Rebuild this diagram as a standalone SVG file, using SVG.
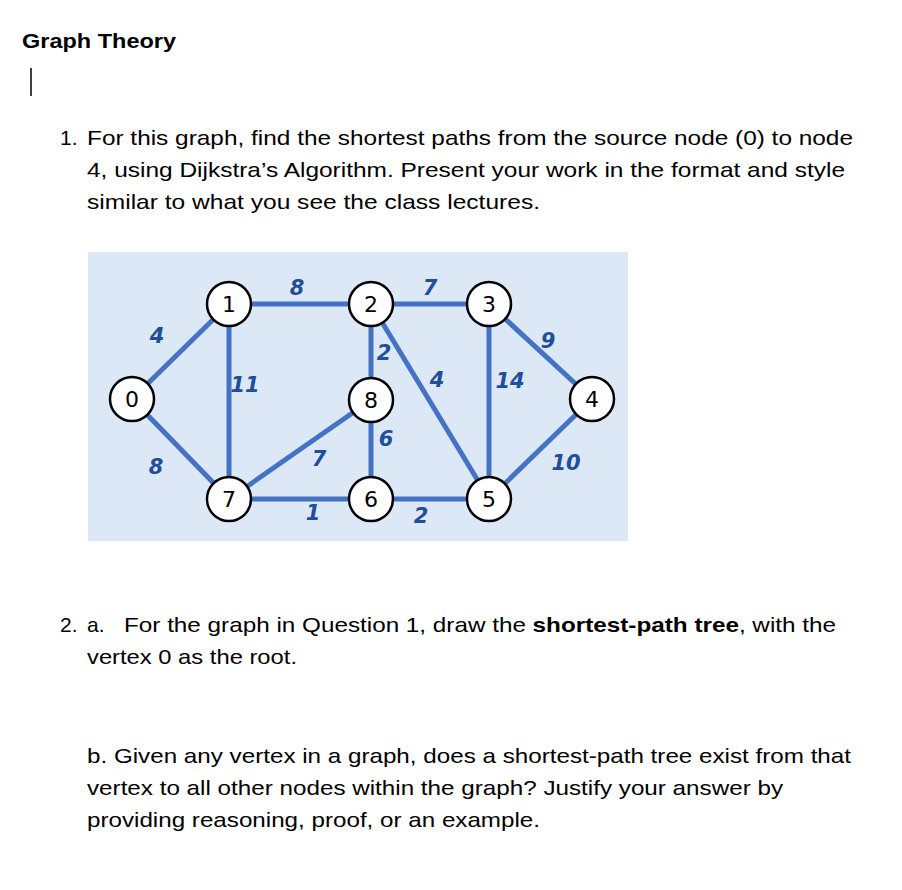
<svg xmlns="http://www.w3.org/2000/svg" width="902" height="890" viewBox="0 0 902 890">
<style>
.t{font-family:"Liberation Sans",Arial,sans-serif;font-size:21px;fill:#000}
.b{font-weight:bold}
.e{stroke:#4472c4;stroke-width:5;fill:none}
.n circle{fill:#fff;stroke:#000;stroke-width:2.5}
.n text{font-family:"DejaVu Sans",sans-serif;font-size:22px;text-anchor:middle;fill:#000}
.w{font-family:"DejaVu Sans",sans-serif;font-size:21px;font-weight:bold;font-style:italic;fill:#1f4e9a;text-anchor:middle}
</style>
<rect width="902" height="890" fill="#fff"/>
<text class="t b" x="22" y="48" textLength="154" lengthAdjust="spacingAndGlyphs">Graph Theory</text>
<line x1="31" y1="68" x2="31" y2="96" stroke="#000" stroke-width="1.5"/>
<text class="t" x="60" y="145">1.</text>
<text class="t" x="87" y="145" textLength="766" lengthAdjust="spacingAndGlyphs">For this graph, find the shortest paths from the source node (0) to node</text>
<text class="t" x="87" y="177" textLength="758" lengthAdjust="spacingAndGlyphs">4, using Dijkstra’s Algorithm. Present your work in the format and style</text>
<text class="t" x="87" y="209" textLength="453" lengthAdjust="spacingAndGlyphs">similar to what you see the class lectures.</text>
<rect x="88" y="252" width="540" height="289" fill="#dce8f5"/>
<g id="connectors">
<line class="e" x1="132" y1="399" x2="229" y2="304"/>
<line class="e" x1="132" y1="399" x2="229" y2="499"/>
<line class="e" x1="229" y1="304" x2="371" y2="304"/>
<line class="e" x1="229" y1="304" x2="229" y2="499"/>
<line class="e" x1="371" y1="304" x2="489" y2="304"/>
<line class="e" x1="371" y1="304" x2="371" y2="400"/>
<line class="e" x1="371" y1="304" x2="489" y2="499"/>
<line class="e" x1="489" y1="304" x2="489" y2="499"/>
<line class="e" x1="489" y1="304" x2="592" y2="399"/>
<line class="e" x1="371" y1="400" x2="229" y2="499"/>
<line class="e" x1="371" y1="400" x2="371" y2="499"/>
<line class="e" x1="229" y1="499" x2="371" y2="499"/>
<line class="e" x1="371" y1="499" x2="489" y2="499"/>
<line class="e" x1="489" y1="499" x2="592" y2="399"/>
</g>
<g id="weights">
<text class="w" x="157" y="343">4</text>
<text class="w" x="156" y="474">8</text>
<text class="w" x="297" y="295">8</text>
<text class="w" x="245" y="392">11</text>
<text class="w" x="430" y="295">7</text>
<text class="w" x="384" y="360">2</text>
<text class="w" x="437" y="387">4</text>
<text class="w" x="510" y="388">14</text>
<text class="w" x="548" y="348">9</text>
<text class="w" x="386" y="446">6</text>
<text class="w" x="319" y="466">7</text>
<text class="w" x="566" y="470">10</text>
<text class="w" x="313" y="520">1</text>
<text class="w" x="421" y="523">2</text>
</g>
<g id="n0" class="n"><circle cx="132" cy="399" r="22"/><text x="132" y="407">0</text></g>
<g id="n1" class="n"><circle cx="229" cy="304" r="22"/><text x="229" y="312">1</text></g>
<g id="n2" class="n"><circle cx="371" cy="304" r="22"/><text x="371" y="312">2</text></g>
<g id="n3" class="n"><circle cx="489" cy="304" r="22"/><text x="489" y="312">3</text></g>
<g id="n4" class="n"><circle cx="592" cy="399" r="22"/><text x="592" y="407">4</text></g>
<g id="n8" class="n"><circle cx="371" cy="400" r="22"/><text x="371" y="408">8</text></g>
<g id="n7" class="n"><circle cx="229" cy="499" r="22"/><text x="229" y="507">7</text></g>
<g id="n6" class="n"><circle cx="371" cy="499" r="22"/><text x="371" y="507">6</text></g>
<g id="n5" class="n"><circle cx="489" cy="499" r="22"/><text x="489" y="507">5</text></g>
<text class="t" x="60" y="632">2.</text>
<text class="t" x="87" y="632">a.</text>
<text class="t" x="124" y="632" textLength="712" lengthAdjust="spacingAndGlyphs">For the graph in Question 1, draw the <tspan class="b">shortest-path tree</tspan>, with the</text>
<text class="t" x="87" y="664" textLength="210" lengthAdjust="spacingAndGlyphs">vertex 0 as the root.</text>
<text class="t" x="87" y="763" textLength="764" lengthAdjust="spacingAndGlyphs">b. Given any vertex in a graph, does a shortest-path tree exist from that</text>
<text class="t" x="87" y="795" textLength="696" lengthAdjust="spacingAndGlyphs">vertex to all other nodes within the graph? Justify your answer by</text>
<text class="t" x="87" y="827" textLength="453" lengthAdjust="spacingAndGlyphs">providing reasoning, proof, or an example.</text>
</svg>
